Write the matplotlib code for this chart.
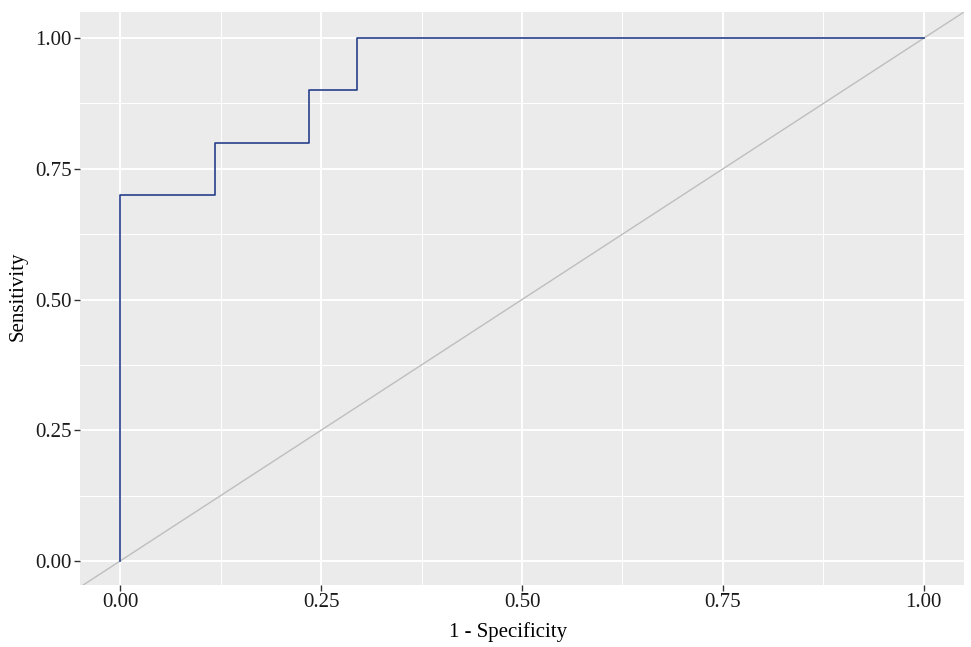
import numpy as np
import matplotlib.pyplot as plt

# ROC curve points (10 positives, 17 negatives)
fpr = [0.0, 0.0, 2/17, 4/17, 5/17, 1.0]
tpr = [0.0, 0.7, 0.8, 0.9, 1.0, 1.0]

ticks = [0.0, 0.25, 0.5, 0.75, 1.0]
tick_labels = ["0.00", "0.25", "0.50", "0.75", "1.00"]

plt.rcParams["font.family"] = ["Liberation Serif", "DejaVu Serif"]

fig = plt.figure(figsize=(9.71, 6.47), dpi=100)
ax = fig.add_axes([80/971, 1 - 585/647, (964 - 80)/971, (585 - 12)/647])

ax.set_facecolor("#EBEBEB")
for s in ax.spines.values():
    s.set_visible(False)

ax.set_xlim(-0.05, 1.05)
ax.set_ylim(-0.046, 1.05)

ax.set_xticks(ticks)
ax.set_xticklabels(tick_labels)
ax.set_yticks(ticks)
ax.set_yticklabels(tick_labels)
ax.set_xticks([0.125, 0.375, 0.625, 0.875], minor=True)
ax.set_yticks([0.125, 0.375, 0.625, 0.875], minor=True)

ax.grid(which="major", color="white", lw=1.4)
ax.grid(which="minor", color="white", lw=0.7)
ax.set_axisbelow(True)
ax.tick_params(which="major", length=4, width=1.0, color="#333333",
               labelsize=15, labelcolor="#1a1a1a", pad=2)
ax.tick_params(which="minor", length=0)

ax.axline((0, 0), (1, 1), color="#BEBEBE", lw=1.0)
ax.plot(fpr, tpr, drawstyle="steps-post", color="#27408B", lw=1.2)

ax.set_xlabel("1 - Specificity", fontsize=15)
ax.set_ylabel("Sensitivity", fontsize=15)
ax.xaxis.set_label_coords((508 - 80) / 884, -(637 - 585) / 573)
ax.yaxis.set_label_coords(-(80 - 18) / 884, (585 - 296) / 573)
ax.xaxis.label.set_va("baseline")
ax.yaxis.label.set_va("center")

fig.savefig("out.png", dpi=100)
